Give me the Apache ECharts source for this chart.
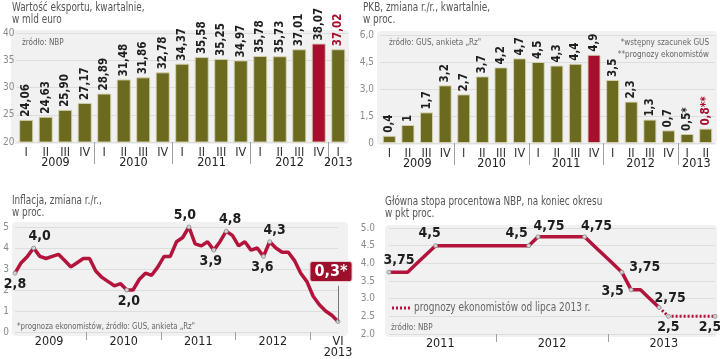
<!DOCTYPE html>
<html>
<head>
<meta charset="utf-8">
<script src="https://cdn.jsdelivr.net/npm/echarts@6/dist/echarts.min.js"></script>
<style>
html,body{margin:0;padding:0;background:#fff;}
#c{width:720px;height:359px;}
</style>
</head>
<body>
<div id="c"></div>
<script>
// ---------- DATA ----------
const exportQuarters = ['I','II','III','IV','I','II','III','IV','I','II','III','IV','I','II','III','IV','I'];
const exportYears = ['2009','2010','2011','2012','2013'];
const exportQuartersPerYear = [4,4,4,4,1];
const exportValues = [24.06,24.63,25.90,27.17,28.89,31.48,31.86,32.78,34.37,35.58,35.25,34.97,35.78,35.73,37.01,38.07,37.02];
const exportRedBar = 15;
const exportRedLabel = 16;

const gdpQuarters = ['I','II','III','IV','I','II','III','IV','I','II','III','IV','I','II','III','IV','I','II'];
const gdpYears = ['2009','2010','2011','2012','2013'];
const gdpQuartersPerYear = [4,4,4,4,2];
const gdpValues = [0.4,1,1.7,3.2,2.7,3.7,4.2,4.7,4.5,4.3,4.4,4.9,3.5,2.3,1.3,0.7,0.5,0.8];
const gdpLabels = ['0,4','1','1,7','3,2','2,7','3,7','4,2','4,7','4,5','4,3','4,4','4,9','3,5','2,3','1,3','0,7','0,5*','0,8**'];
const gdpRedBar = 11;
const gdpRedLabel = 17;

const inflationYears = ['2009','2010','2011','2012','VI\n2013'];
const inflationMonthsPerYear = [12,12,12,12,5];
const inflationValues = [
  2.8,3.3,3.6,4.0,3.6,3.5,3.6,3.7,3.4,3.1,3.3,3.5,
  3.5,2.9,2.6,2.4,2.2,2.3,2.0,2.0,2.5,2.8,2.7,3.1,
  3.6,3.6,4.3,4.5,5.0,4.2,4.1,4.3,3.9,4.3,4.8,4.6,
  4.1,4.3,3.9,4.0,3.6,4.3,4.0,3.8,3.8,3.4,2.8,2.4,
  1.7,1.3,1.0,0.8,0.5
];
const inflationPointLabels = {0:'2,8',3:'4,0',18:'2,0',28:'5,0',32:'3,9',34:'4,8',40:'3,6',41:'4,3',52:'0,3*'};

const rateYears = ['2011','2012','2013'];
const rateMonthsPerYear = [12,12,12];
const rateValues = [
  3.75,3.75,3.75,4.0,4.25,4.5,4.5,4.5,4.5,4.5,4.5,4.5,
  4.5,4.5,4.5,4.5,4.75,4.75,4.75,4.75,4.75,4.75,4.5,4.25,
  4.0,3.75,3.25,3.25,3.0,2.75,2.5,2.5,2.5,2.5,2.5,2.5
];
const rateForecastFrom = 29; // forecast (dotted) starts after this index
const ratePointLabels = {0:'3,75',5:'4,5',15:'4,5',16:'4,75',21:'4,75',25:'3,75',26:'3,5',29:'2,75',30:'2,5',35:'2,5'};

// ---------- STYLE ----------
const NARROW = '"Liberation Sans Narrow","Arial Narrow","DejaVu Sans Condensed",sans-serif';
const OLIVE = '#6b6a1f';
const RED = '#a80f2f';
const LINE_RED = '#b3143c';
const BG = '#f1f1f1';
const GRID_LINE = '#dddddd';

function yearAxisParts(counts, years, centered) {
  const centers = [], bounds = [], map = {};
  let acc = 0;
  counts.forEach((c, i) => {
    const mid = centered ? acc + c / 2 : acc + (c - 1) / 2;
    centers.push(mid);
    map[mid.toFixed(3)] = years[i];
    acc += c;
    if (i < counts.length - 1) bounds.push(centered ? acc : acc - 0.5);
  });
  return {centers, bounds, map, total: acc};
}

function yearAxis(gridIndex, counts, years, centered, margin, tickLen, lastCenterOverride) {
  const p = yearAxisParts(counts, years, centered);
  const max = centered ? p.total : p.total - 1;
  if (lastCenterOverride !== undefined) {
    const oldKey = p.centers[p.centers.length - 1].toFixed(3);
    delete p.map[oldKey];
    p.centers[p.centers.length - 1] = lastCenterOverride;
    p.map[lastCenterOverride.toFixed(3)] = years[years.length - 1];
  }
  return {
    type: 'value', gridIndex, min: 0, max, position: 'bottom', scale: false,
    axisLine: {show: false}, splitLine: {show: false},
    axisTick: {show: true, customValues: p.bounds, length: tickLen, lineStyle: {color: '#a0a0a0', width: 1}},
    axisLabel: {
      show: true, customValues: p.centers, margin,
      fontFamily: NARROW, fontSize: 12.5, color: '#222', lineHeight: 11,
      formatter: v => p.map[Number(v).toFixed(3)] || ''
    }
  };
}

function quarterAxis(gridIndex, data) {
  return {
    type: 'category', gridIndex, data, position: 'bottom',
    axisLine: {show: false}, axisTick: {show: false},
    axisLabel: {margin: 4, fontFamily: NARROW, fontSize: 12.5, color: '#333', interval: 0}
  };
}

function valueY(gridIndex, min, max, interval, margin, fmt) {
  return {
    type: 'value', gridIndex, min, max, interval,
    axisLine: {show: false}, axisTick: {show: false},
    splitLine: {show: true, lineStyle: {color: GRID_LINE, width: 1}},
    axisLabel: {margin, fontFamily: NARROW, fontSize: 10, color: '#8a8a8a', formatter: fmt}
  };
}

const barLabelBase = {
  show: true, position: 'top', rotate: 90, align: 'left', verticalAlign: 'middle', distance: 3,
  fontFamily: NARROW, fontWeight: 'bold', fontSize: 11.5, color: '#1e1e1e'
};

const exportData = exportValues.map((v, i) => ({
  value: v,
  itemStyle: {color: i === exportRedBar ? RED : OLIVE},
  label: Object.assign({}, barLabelBase, {
    formatter: v.toFixed(2).replace('.', ','),
    color: i === exportRedLabel ? RED : '#1e1e1e'
  })
}));

const gdpData = gdpValues.map((v, i) => ({
  value: v,
  itemStyle: {color: i === gdpRedBar ? RED : OLIVE},
  label: Object.assign({}, barLabelBase, {
    formatter: gdpLabels[i],
    color: i === gdpRedLabel ? RED : '#1e1e1e'
  })
}));

const pointLabelStyle = {fontFamily: NARROW, fontWeight: 'bold', fontSize: 14, color: '#1e1e1e'};

const inflationPlacement = {
  0: {position: 'bottom', distance: 2, offset: [0, 0]},
  3: {position: 'top', distance: 2, offset: [6, 0]},
  18: {position: 'bottom', distance: 2, offset: [2, 0]},
  28: {position: 'top', distance: 2, offset: [-4, 0]},
  32: {position: 'bottom', distance: 2, offset: [-3, 0]},
  34: {position: 'top', distance: 2, offset: [4, 0]},
  40: {position: 'bottom', distance: 2, offset: [-1, 0]},
  41: {position: 'top', distance: 2, offset: [5, 0]}
};

const markerStyle = {color: '#d4d4d4', borderColor: '#8c8c8c', borderWidth: 0.8};

const inflationData = inflationValues.map((v, i) => {
  const txt = inflationPointLabels[i];
  if (txt === undefined) return {value: v, symbolSize: 0};
  if (i === inflationValues.length - 1) {
    return {
      value: v, symbolSize: 4, itemStyle: markerStyle,
      label: {show: true, formatter: txt, position: 'top', distance: 38, offset: [-7, 0],
        fontFamily: NARROW, fontWeight: 'bold', fontSize: 16, color: '#fff',
        backgroundColor: '#9e0f2c', padding: [2, 4, 1, 4], borderRadius: 2,
        borderColor: '#e9c9cf', borderWidth: 1}
    };
  }
  return {value: v, symbolSize: 4, itemStyle: markerStyle,
    label: Object.assign({show: true, formatter: txt}, pointLabelStyle, inflationPlacement[i])};
});

const ratePlacement = {
  0: {position: 'top', distance: 2, offset: [10, 0]},
  5: {position: 'top', distance: 3, offset: [-6, 0]},
  15: {position: 'top', distance: 3, offset: [-12, 0]},
  16: {position: 'top', distance: 1, offset: [11, 0]},
  21: {position: 'top', distance: 1, offset: [12, 0]},
  25: {position: 'right', distance: 5, offset: [0, -5]},
  26: {position: 'left', distance: 5, offset: [0, 2]},
  29: {position: 'top', distance: 0, offset: [11, 0]},
  30: {position: 'bottom', distance: 2, offset: [0, 0]},
  35: {position: 'bottom', distance: 2, offset: [-5, 0]}
};

function rateItem(v, i) {
  const txt = ratePointLabels[i];
  if (txt === undefined) return {value: v, symbolSize: 0};
  return {value: v, symbolSize: 4, itemStyle: markerStyle,
    label: Object.assign({show: true, formatter: txt}, pointLabelStyle, ratePlacement[i])};
}
const rateSolid = rateValues.map((v, i) => i <= rateForecastFrom ? rateItem(v, i) : '-');
const rateDotted = rateValues.map((v, i) => i > rateForecastFrom ? rateItem(v, i) : (i === rateForecastFrom ? {value: v, symbolSize: 0} : '-'));

const inflationMonths = inflationValues.map((_, i) => 'm' + i);
const rateMonths = rateValues.map((_, i) => 'm' + i);
const lastInfl = inflationValues.length - 1;

// ---------- CHART ----------
const chart = echarts.init(document.getElementById('c'), null, {renderer: 'canvas'});

const SX = 0.79;
function txt(x, y, text, size, color, align, sx) {
  return {type: 'text', x, y, z: 5, silent: true, scaleX: sx || SX,
    style: {text, fill: color, font: 'normal ' + size + 'px ' + NARROW,
      align: align || 'left', verticalAlign: 'middle'}};
}
function bg(x, y, w, h) {
  return {type: 'rect', z: -10, silent: true, shape: {x, y, width: w, height: h, r: 4}, style: {fill: BG}};
}

const option = {
  animation: false,
  backgroundColor: '#ffffff',
  grid: [
    {left: 13, top: 33, width: 335, height: 109},
    {left: 380, top: 35, width: 335, height: 108},
    {left: 15, top: 227, width: 323, height: 107},
    {left: 389, top: 228, width: 326, height: 106}
  ],
  xAxis: [
    quarterAxis(0, exportQuarters),
    yearAxis(0, exportQuartersPerYear, exportYears, true, 15, 22),
    quarterAxis(1, gdpQuarters),
    yearAxis(1, gdpQuartersPerYear, gdpYears, true, 15, 22),
    {type: 'category', gridIndex: 2, data: inflationMonths, boundaryGap: false, show: false},
    yearAxis(2, inflationMonthsPerYear, inflationYears, false, 4, 8, lastInfl),
    {type: 'category', gridIndex: 3, data: rateMonths, boundaryGap: false, show: false},
    yearAxis(3, rateMonthsPerYear, rateYears, false, 4, 8)
  ],
  yAxis: [
    valueY(0, 20, 40, 5, 2, v => String(v)),
    valueY(1, 0, 6, 1.5, 6, v => v === 0 ? '0' : v.toFixed(1).replace('.', ',')),
    valueY(2, 0, 5, 1, 6, v => String(v)),
    valueY(3, 2, 5, 0.5, 14, v => v.toFixed(1))
  ],
  series: [
    {type: 'bar', xAxisIndex: 0, yAxisIndex: 0, data: exportData, barWidth: '72%',
      itemStyle: {borderColor: 'rgba(215,212,180,0.9)', borderWidth: 1}},
    {type: 'bar', xAxisIndex: 2, yAxisIndex: 1, data: gdpData, barWidth: '70%',
      itemStyle: {borderColor: 'rgba(215,212,180,0.9)', borderWidth: 1}},
    {type: 'line', xAxisIndex: 4, yAxisIndex: 2, data: inflationData, symbol: 'circle', showSymbol: true,
      lineStyle: {color: LINE_RED, width: 3.5}, itemStyle: {color: LINE_RED}, z: 3,
      markLine: {silent: true, symbol: 'none', label: {show: false},
        lineStyle: {color: '#777', width: 1, type: 'solid'},
        data: [[{coord: [lastInfl, inflationValues[lastInfl]]}, {coord: [lastInfl, 2.2]}]]}},
    {type: 'line', xAxisIndex: 6, yAxisIndex: 3, data: rateSolid, symbol: 'circle', showSymbol: true,
      lineStyle: {color: LINE_RED, width: 3.5}, itemStyle: {color: LINE_RED}, z: 3},
    {type: 'line', xAxisIndex: 6, yAxisIndex: 3, data: rateDotted, symbol: 'circle', showSymbol: true,
      lineStyle: {color: LINE_RED, width: 3, type: [2, 2]}, itemStyle: {color: LINE_RED}, z: 3}
  ],
  graphic: [
    bg(11, 30, 338, 114),
    bg(377, 31, 340, 114),
    bg(12, 222, 336, 114),
    bg(385, 225, 332, 112),
    txt(12, 8, 'Wartość eksportu, kwartalnie,', 12.5, '#555'),
    txt(12, 20, 'w mld euro', 12.5, '#555'),
    txt(363, 8, 'PKB, zmiana r./r., kwartalnie,', 12.5, '#555'),
    txt(363, 20, 'w proc.', 12.5, '#555'),
    txt(12, 201, 'Inflacja, zmiana r./r.,', 12.5, '#555'),
    txt(12, 213, 'w proc.', 12.5, '#555'),
    txt(385, 202, 'Główna stopa procentowa NBP, na koniec okresu', 12.5, '#555'),
    txt(385, 214, 'w pkt proc.', 12.5, '#555'),
    txt(22, 43, 'żródło: NBP', 9.5, '#666', 'left', 0.85),
    txt(389, 43, 'żródło: GUS, ankieta „Rz"', 9.5, '#666', 'left', 0.85),
    txt(709, 43, '*wstępny szacunek GUS', 9.5, '#666', 'right', 0.85),
    txt(709, 55, '**prognozy ekonomistów', 9.5, '#666', 'right', 0.85),
    txt(17, 327, '*prognoza ekonomistów, źródło: GUS, ankieta „Rz"', 9.5, '#666', 'left', 0.82),
    txt(391, 328, 'żródło: NBP', 9.5, '#666', 'left', 0.85),
    {type: 'line', z: 5, silent: true, shape: {x1: 392, y1: 308, x2: 410, y2: 308},
      style: {stroke: LINE_RED, lineWidth: 3, lineDash: [2, 2]}},
    txt(414, 308, 'prognozy ekonomistów od lipca 2013 r.', 13, '#666', 'left', 0.77)
  ]
};
chart.setOption(option);
</script>
</body>
</html>
